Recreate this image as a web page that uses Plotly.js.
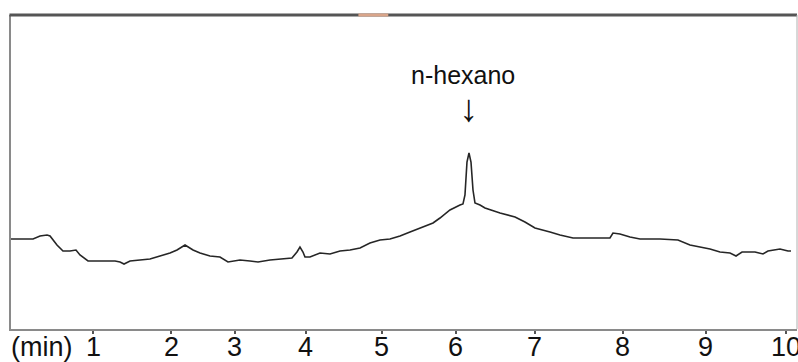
<!DOCTYPE html>
<html>
<head>
<meta charset="utf-8">
<script src="https://cdn.plot.ly/plotly-3.0.1.min.js"></script>
<style>
html,body{margin:0;padding:0;background:#fff;}
#chart{width:798px;height:362px;}
</style>
</head>
<body>
<div id="chart"></div>
<script>
// Retention time (min, linear reference scale calibrated on ticks 1 and 10)
const retentionTime = [-0.065,0.221,0.312,0.403,0.442,0.532,0.610,0.701,0.779,0.831,0.935,1.286,1.351,1.403,1.481,1.610,1.740,1.870,2.000,2.091,2.195,2.299,2.390,2.519,2.649,2.753,2.909,3.039,3.143,3.299,3.429,3.584,3.649,3.688,3.727,3.753,3.818,3.948,4.078,4.208,4.338,4.468,4.597,4.727,4.857,4.987,5.117,5.247,5.416,5.506,5.636,5.766,5.805,5.831,5.857,5.883,5.909,5.935,5.961,6.026,6.091,6.286,6.481,6.610,6.740,6.935,7.065,7.234,7.455,7.714,7.753,7.844,7.974,8.104,8.364,8.597,8.753,8.883,9.013,9.143,9.273,9.351,9.429,9.597,9.701,9.766,9.857,9.922,10.026,10.065];
// Detector signal (arbitrary units)
const signal = [90,90,93,94,93,84,78,78,79,74,68,68,67,65,68,69,70,73,76,79,84,79,76,73,72,67,69,68,67,69,70,71,77,82,77,72,72,76,75,78,79,81,86,89,90,93,97,101,106,111,119,124,125,134,167,176,167,139,126,124,121,116,112,107,101,97,94,91,91,91,96,95,92,90,90,89,84,82,80,77,76,73,77,77,75,78,79,80,78,78];
// Axis tick positions (as printed on the original, unevenly spaced) and labels
const tickPositions = [1.0,2.013,2.844,3.766,4.753,5.714,6.740,7.883,8.961,10.0];
const tickLabels = ["1","2","3","4","5","6","7","8","9","10"];
const axisUnit = "(min)";
// Peak label
const peakName = "n-hexano";
const peakTime = 5.883;
const peakLabelTime = 5.805;

const labelFont = {size: 27, family: 'Liberation Sans, Arial, sans-serif', color: '#111'};
const labelY = -0.058;

const trace = {
  x: retentionTime, y: signal, type: 'scatter', mode: 'lines',
  line: {color: '#262626', width: 1.6, shape: 'linear'},
  hoverinfo: 'skip'
};

const tickAnnotations = tickPositions.map((v, i) => ({
  x: v, y: labelY, xref: 'x', yref: 'paper', xanchor: 'center', yanchor: 'middle',
  text: tickLabels[i], showarrow: false, font: labelFont
}));

const layout = {
  width: 798, height: 362,
  margin: {l: 11, r: 1, t: 15, b: 33},
  paper_bgcolor: '#ffffff', plot_bgcolor: '#ffffff',
  showlegend: false,
  font: {family: 'Liberation Sans, Arial, sans-serif', color: '#111'},
  xaxis: {
    range: [-0.065, 10.143], showgrid: false, zeroline: false,
    showline: true, linecolor: '#8a8a8a', linewidth: 2,
    tickmode: 'array', tickvals: tickPositions, ticktext: tickLabels,
    showticklabels: false,
    ticks: 'outside', ticklen: 3, tickwidth: 2, tickcolor: '#555',
    fixedrange: true
  },
  yaxis: {
    range: [0, 314], showgrid: false, zeroline: false,
    showline: true, linecolor: '#8a8a8a', linewidth: 2,
    showticklabels: false, ticks: '', fixedrange: true
  },
  shapes: [
    {type: 'line', xref: 'paper', yref: 'paper', x0: -0.002, x1: 1, y0: 1, y1: 1,
     line: {color: '#555555', width: 3}},
    {type: 'line', xref: 'paper', yref: 'paper', x0: 0.442, x1: 0.48, y0: 1, y1: 1,
     line: {color: '#d9a58a', width: 3}},
    {type: 'line', xref: 'paper', yref: 'paper', x0: 1, x1: 1, y0: 0, y1: 1,
     line: {color: '#b0b0b0', width: 1}}
  ],
  annotations: [
    {x: peakLabelTime, y: 254, xref: 'x', yref: 'y', text: peakName, showarrow: false,
     font: {size: 25, family: 'Liberation Sans, Arial, sans-serif', color: '#111'}},
    {x: peakTime, y: 221, xref: 'x', yref: 'y', text: '↓', showarrow: false,
     font: {size: 38, family: 'Liberation Sans, DejaVu Sans, sans-serif', color: '#111'}},
    {x: -0.003, y: labelY, xref: 'paper', yref: 'paper', xanchor: 'left', yanchor: 'middle',
     text: axisUnit, showarrow: false, font: labelFont}
  ].concat(tickAnnotations)
};

Plotly.newPlot('chart', [trace], layout, {displayModeBar: false, staticPlot: true});
</script>
</body>
</html>
